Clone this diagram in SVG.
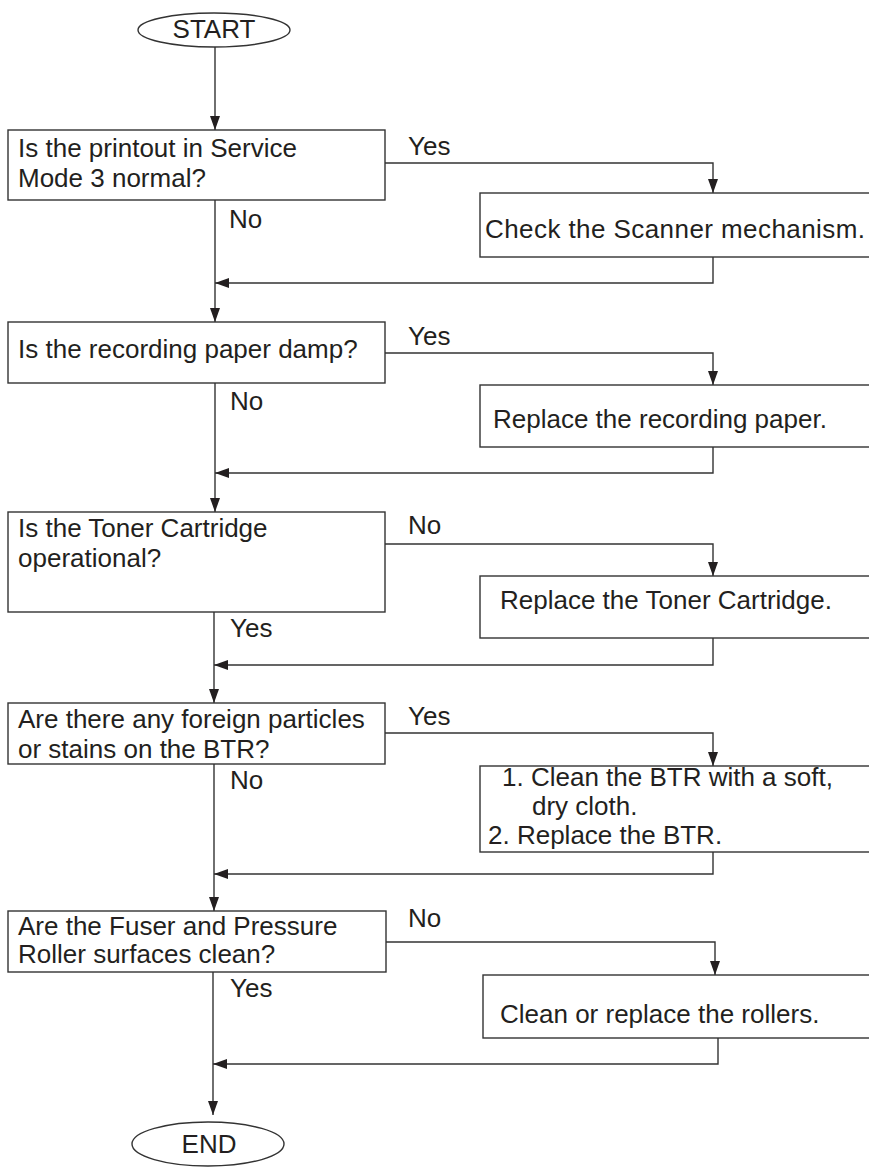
<svg xmlns="http://www.w3.org/2000/svg" width="869" height="1168" viewBox="0 0 869 1168">
<style>
.box{fill:#fff;stroke:#333;stroke-width:1.4}
.t{font-family:"Liberation Sans",Arial,sans-serif;font-size:26px;fill:#231f20}
.c{text-anchor:middle}
.ln{fill:none;stroke:#333;stroke-width:1.4}
</style>
<defs>
<marker id="ah" viewBox="0 0 14 10" refX="14" refY="5" markerWidth="14" markerHeight="10" markerUnits="userSpaceOnUse" orient="auto">
<path d="M0,0 L14,5 L0,10 z" fill="#231f20"/>
</marker>
</defs>
<rect width="869" height="1168" fill="#fff"/>
<g id="connectors">
<path class="ln" d="M215,47 V130" marker-end="url(#ah)"/>
<path class="ln" d="M385,163 H713 V193" marker-end="url(#ah)"/>
<path class="ln" d="M713,257 V283 H215" marker-end="url(#ah)"/>
<path class="ln" d="M215,200 V322" marker-end="url(#ah)"/>
<path class="ln" d="M385,353 H713 V385" marker-end="url(#ah)"/>
<path class="ln" d="M713,447 V473 H215" marker-end="url(#ah)"/>
<path class="ln" d="M215,383 V512" marker-end="url(#ah)"/>
<path class="ln" d="M385,544 H713 V576" marker-end="url(#ah)"/>
<path class="ln" d="M713,638 V665 H214" marker-end="url(#ah)"/>
<path class="ln" d="M214,612 V703" marker-end="url(#ah)"/>
<path class="ln" d="M385,733 H713 V766" marker-end="url(#ah)"/>
<path class="ln" d="M713,852 V874 H214" marker-end="url(#ah)"/>
<path class="ln" d="M214,764 V911" marker-end="url(#ah)"/>
<path class="ln" d="M386,942 H715 V975" marker-end="url(#ah)"/>
<path class="ln" d="M718,1038 V1064 H213" marker-end="url(#ah)"/>
<path class="ln" d="M213,972 V1115" marker-end="url(#ah)"/>
<text class="t" x="408" y="155">Yes</text>
<text class="t" x="229" y="228">No</text>
<text class="t" x="408" y="345">Yes</text>
<text class="t" x="230" y="410">No</text>
<text class="t" x="408" y="534">No</text>
<text class="t" x="230" y="637">Yes</text>
<text class="t" x="408" y="725">Yes</text>
<text class="t" x="230" y="789">No</text>
<text class="t" x="408" y="927">No</text>
<text class="t" x="230" y="997">Yes</text>
</g>
<g id="start">
<ellipse class="box" cx="214" cy="30" rx="76" ry="17"/>
<text class="t c" x="214" y="38">START</text>
</g>
<g id="q1">
<rect class="box" x="8" y="130" width="377" height="70"/>
<text class="t" x="18" y="157">Is the printout in Service</text>
<text class="t" x="18" y="187">Mode 3 normal?</text>
</g>
<g id="a1">
<rect class="box" x="480" y="193" width="400" height="64"/>
<text class="t" x="485" y="238" textLength="380">Check the Scanner mechanism.</text>
</g>
<g id="q2">
<rect class="box" x="8" y="322" width="377" height="61"/>
<text class="t" x="18" y="358">Is the recording paper damp?</text>
</g>
<g id="a2">
<rect class="box" x="480" y="385" width="400" height="62"/>
<text class="t" x="493" y="428">Replace the recording paper.</text>
</g>
<g id="q3">
<rect class="box" x="8" y="512" width="377" height="100"/>
<text class="t" x="18" y="537">Is the Toner Cartridge</text>
<text class="t" x="18" y="567">operational?</text>
</g>
<g id="a3">
<rect class="box" x="480" y="576" width="400" height="62"/>
<text class="t" x="500" y="609">Replace the Toner Cartridge.</text>
</g>
<g id="q4">
<rect class="box" x="8" y="703" width="377" height="61"/>
<text class="t" x="18" y="728">Are there any foreign particles</text>
<text class="t" x="18" y="758">or stains on the BTR?</text>
</g>
<g id="a4">
<rect class="box" x="480" y="766" width="400" height="86"/>
<text class="t" x="502" y="786">1. Clean the BTR with a soft,</text>
<text class="t" x="532" y="815">dry cloth.</text>
<text class="t" x="488" y="844">2. Replace the BTR.</text>
</g>
<g id="q5">
<rect class="box" x="8" y="911" width="378" height="61"/>
<text class="t" x="18" y="935">Are the Fuser and Pressure</text>
<text class="t" x="18" y="963">Roller surfaces clean?</text>
</g>
<g id="a5">
<rect class="box" x="483" y="975" width="400" height="63"/>
<text class="t" x="500" y="1023">Clean or replace the rollers.</text>
</g>
<g id="end">
<ellipse class="box" cx="208" cy="1144" rx="76" ry="22"/>
<text class="t c" x="209" y="1153">END</text>
</g>
</svg>
